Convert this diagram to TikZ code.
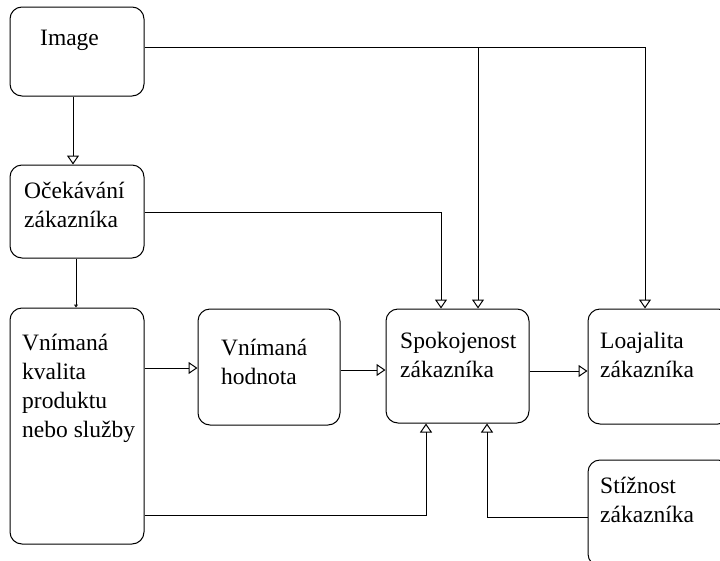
\documentclass[tikz,border=0pt]{standalone}
\usepackage{fontspec}
\setmainfont{Liberation Serif}
\usetikzlibrary{arrows.meta}
\begin{document}
\begin{tikzpicture}[x=1pt,y=-1pt,
  box/.style={draw, line width=1pt, rounded corners=12pt, inner sep=0pt, anchor=center},
  txt/.style={anchor=base west, inner sep=0pt, align=left, font=\fontsize{23.5}{29}\selectfont},
  conn/.style={line width=1pt, -{Triangle[open, length=9pt, width=12pt]}},
  small/.style={line width=1pt, -{Triangle[open, length=3pt, width=4pt]}}]
  \useasboundingbox (0,0) rectangle (720,560);
  \clip (0,0) rectangle (720,560);
  % boxes
  \node[box, minimum width=134pt, minimum height=89pt] (img) at (77,51.5) {};
  \node[box, minimum width=134pt, minimum height=93pt] (exp) at (77,211.5) {};
  \node[box, minimum width=134pt, minimum height=236pt] (qual) at (77,426) {};
  \node[box, minimum width=142pt, minimum height=116pt] (val) at (269,367) {};
  \node[box, minimum width=143pt, minimum height=114pt] (sat) at (457.5,366) {};
  \node[box, minimum width=142pt, minimum height=115pt] (loy) at (659,366.5) {};
  \node[box, minimum width=142pt, minimum height=106pt] (comp) at (659,513) {};
  % labels (anchored at the baseline of their last line)
  \node[txt] (timg) at (40,45) {Image};
  \node[txt] (texp) at (24,227) {Očekávání\\zákazníka};
  \node[txt] (tqual) at (22,437) {Vnímaná\\kvalita\\produktu\\nebo služby};
  \node[txt] (tval) at (221,384) {Vnímaná\\hodnota};
  \node[txt] (tsat) at (400,377) {Spokojenost\\zákazníka};
  \node[txt] (tloy) at (600,377) {Loajalita\\zákazníka};
  \node[txt] (tcomp) at (600,522) {Stížnost\\zákazníka};
  % connectors
  \draw[conn] ([xshift=-4pt]img.south) -- ([xshift=-4pt]exp.north);
  \draw[conn] ([yshift=4.5pt]img.east) -| ([xshift=-14pt]loy.north);
  \coordinate (split) at (478,47);
  \draw[conn] (split) -- ([xshift=20.5pt]sat.north);
  \draw[conn] ([yshift=-0.5pt]exp.east) -| ([xshift=-16.5pt]sat.north);
  \draw[small] ([xshift=-1pt]exp.south) -- ([xshift=-1pt]qual.north);
  \draw[conn] ([yshift=58pt]qual.east) -- ([yshift=-1pt]val.west);
  \draw[conn] ([yshift=-3pt]val.east) -- ([yshift=-4pt]sat.west);
  \draw[conn] ([yshift=-5pt]sat.east) -- ([yshift=-4.5pt]loy.west);
  \draw[conn] ([yshift=-89pt]qual.east) -| ([xshift=-31.5pt]sat.south);
  \draw[conn] ([yshift=-4pt]comp.west) -| ([xshift=29.5pt]sat.south);
\end{tikzpicture}
\end{document}
